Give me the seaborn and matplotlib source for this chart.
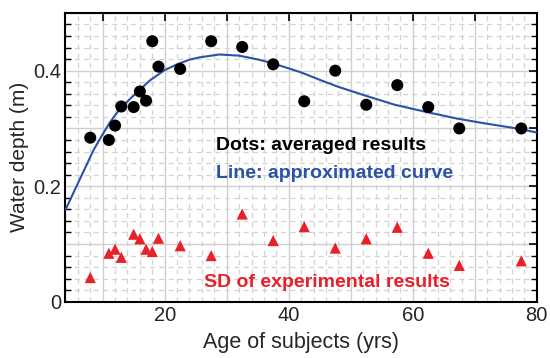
import numpy as np
import pandas as pd
import matplotlib
matplotlib.use("Agg")
import matplotlib.pyplot as plt
from matplotlib.ticker import MultipleLocator, FuncFormatter
import seaborn as sns

# --- data ---
dot_age = [8, 11, 12, 13, 15, 16, 17, 18, 19, 22.5, 27.5, 32.5, 37.5, 42.5,
           47.5, 52.5, 57.5, 62.5, 67.5, 77.5]
dot_depth = [0.284, 0.280, 0.305, 0.338, 0.337, 0.364, 0.348, 0.451, 0.407, 0.403,
             0.451, 0.441, 0.411, 0.347, 0.400, 0.341, 0.375, 0.337, 0.300, 0.300]

sd_age = [8, 11, 12, 13, 15, 16, 17, 18, 19, 22.5, 27.5, 32.5, 37.5, 42.5,
          47.5, 52.5, 57.5, 62.5, 67.5, 77.5]
sd_val = [0.042, 0.084, 0.091, 0.077, 0.117, 0.109, 0.091, 0.087, 0.110, 0.097,
          0.080, 0.152, 0.106, 0.130, 0.093, 0.109, 0.129, 0.084, 0.063, 0.071]

curve_age = [4, 6, 7.5, 8.5, 10, 11.2, 12.8, 14.4, 16, 17.6, 20, 22, 24, 25.6,
             28.8, 32, 35.2, 37.3, 40, 42, 44.8, 48, 52.3, 57.1, 62.4, 67.2,
             71.5, 76.8, 80]
curve_val = [0.159, 0.205, 0.239, 0.262, 0.290, 0.311, 0.334, 0.351, 0.367, 0.383,
             0.401, 0.411, 0.419, 0.423, 0.428, 0.426, 0.419, 0.413, 0.404, 0.397,
             0.385, 0.372, 0.357, 0.341, 0.328, 0.317, 0.309, 0.300, 0.293]

x_ticks = [20, 40, 60, 80]
y_ticks = [0, 0.2, 0.4]

BLUE = "#2a52a6"
RED = "#e8202a"

sns.set_style("white")
plt.rcParams["font.family"] = ["Liberation Sans", "DejaVu Sans"]

fig = plt.figure(figsize=(5.5, 3.58), dpi=100)
ax = fig.add_axes([0.119, 0.157, 0.857, 0.807])

dots = pd.DataFrame({"age": dot_age, "depth": dot_depth})
sd = pd.DataFrame({"age": sd_age, "sd": sd_val})
curve = pd.DataFrame({"age": curve_age, "val": curve_val})

sns.lineplot(data=curve, x="age", y="val", ax=ax, color=BLUE, lw=1.5,
             zorder=4, sort=False)
sns.scatterplot(data=dots, x="age", y="depth", ax=ax, color="black", s=75,
                edgecolor="none", zorder=5)
sns.scatterplot(data=sd, x="age", y="sd", ax=ax, color=RED, marker="^", s=65,
                edgecolor="none", zorder=5)

ax.set_xlim(4, 80)
ax.set_ylim(0, 0.5)

ax.xaxis.set_major_locator(MultipleLocator(10))
ax.xaxis.set_minor_locator(MultipleLocator(2))
ax.yaxis.set_major_locator(MultipleLocator(0.1))
ax.yaxis.set_minor_locator(MultipleLocator(0.02))

def xfmt(v, pos):
    r = int(round(v))
    return str(r) if r in x_ticks else ""

def yfmt(v, pos):
    for t in y_ticks:
        if abs(v - t) < 1e-6:
            return "0" if t == 0 else f"{t:.1f}"
    return ""

ax.xaxis.set_major_formatter(FuncFormatter(xfmt))
ax.yaxis.set_major_formatter(FuncFormatter(yfmt))

ax.tick_params(which="major", direction="in", top=True, right=True, length=6,
               width=1.2, labelsize=14.5, color="black", pad=3)
ax.tick_params(axis="y", which="minor", direction="in", left=True, right=True,
               length=4, width=1.0, color="black")
ax.tick_params(axis="x", which="minor", length=0)

ax.grid(which="major", color="#cfcfcf", lw=1.0, ls="-", zorder=0)
ax.grid(which="minor", color="#d2d2d2", lw=0.9, ls=(0, (4, 3.5)), zorder=0)
ax.set_axisbelow(True)

for s in ax.spines.values():
    s.set_color("black")
    s.set_linewidth(1.5)

ax.set_xlabel("Age of subjects (yrs)", fontsize=15.5, labelpad=5)
ax.set_ylabel("Water depth (m)", fontsize=15, labelpad=3)

ax.text(28.3, 0.271, "Dots: averaged results", fontsize=14, fontweight="bold",
        color="black", va="center", ha="left", zorder=6)
ax.text(28.3, 0.222, "Line: approximated curve", fontsize=14, fontweight="bold",
        color=BLUE, va="center", ha="left", zorder=6)
ax.text(26.4, 0.033, "SD of experimental results", fontsize=14, fontweight="bold",
        color=RED, va="center", ha="left", zorder=6)

fig.savefig("out.png", dpi=100)
